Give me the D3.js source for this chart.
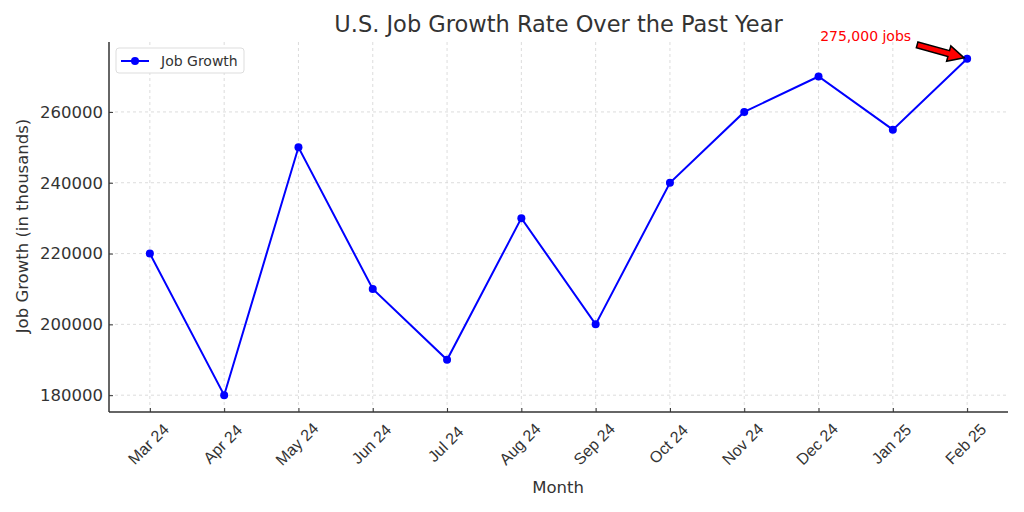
<!DOCTYPE html>
<html><head><meta charset="utf-8">
<script src="https://cdn.jsdelivr.net/npm/d3@7"></script>
<style>body{margin:0;background:#fff}svg{display:block;font-family:"DejaVu Sans",sans-serif}</style>
</head><body><svg id="c" width="1024" height="512"></svg>
<script>
const months = ["Mar 24","Apr 24","May 24","Jun 24","Jul 24","Aug 24","Sep 24","Oct 24","Nov 24","Dec 24","Jan 25","Feb 25"];
const jobGrowth = [220000,180000,250000,210000,190000,230000,200000,240000,260000,270000,255000,275000];
const yTicks = [180000,200000,220000,240000,260000];
const annotationText = "275,000 jobs";

const svg = d3.select("#c");
const L=109,R=1008,T=42,B=412;
const x = d3.scaleLinear().domain([-0.55, months.length-1+0.55]).range([L,R]);
const ymin=d3.min(jobGrowth), ymax=d3.max(jobGrowth), pad=(ymax-ymin)*0.05;
const y = d3.scaleLinear().domain([ymin-pad,ymax+pad]).range([B,T]);

const grid = svg.append("g");
months.forEach((m,i)=>grid.append("line").attr("x1",x(i)).attr("x2",x(i)).attr("y1",T).attr("y2",B));
yTicks.forEach(v=>grid.append("line").attr("x1",L).attr("x2",R).attr("y1",y(v)).attr("y2",y(v)));
grid.selectAll("line").attr("stroke","#d3d3d3").attr("stroke-width",0.8).attr("stroke-dasharray","3,3");

const xAxis = svg.append("g").attr("transform",`translate(0,${B})`)
  .call(d3.axisBottom(x).tickValues(d3.range(months.length)).tickFormat(i=>months[i]).tickSizeInner(-4).tickSizeOuter(0));
xAxis.select(".domain").remove();
xAxis.selectAll("text").attr("text-anchor","middle").attr("font-size",16).attr("fill","#333")
  .attr("x",0).attr("y",0).attr("dy","0.35em").attr("transform","translate(-2,32) rotate(-45)");
xAxis.selectAll("line").attr("stroke","#333");

const yAxis = svg.append("g").attr("transform",`translate(${L},0)`)
  .call(d3.axisLeft(y).tickValues(yTicks).tickFormat(d3.format("d")).tickSizeInner(-4).tickSizeOuter(0).tickPadding(6));
yAxis.select(".domain").remove();
yAxis.selectAll("text").attr("font-size",16.5).attr("fill","#333").attr("font-family","DejaVu Sans");
yAxis.selectAll("line").attr("stroke","#333");

svg.append("line").attr("x1",L).attr("x2",L).attr("y1",T).attr("y2",B).attr("stroke","#333").attr("stroke-width",1.5);
svg.append("line").attr("x1",L).attr("x2",R).attr("y1",B).attr("y2",B).attr("stroke","#333").attr("stroke-width",1.5);

const line = d3.line().x((d,i)=>x(i)).y(d=>y(d));
svg.append("path").datum(jobGrowth).attr("d",line).attr("fill","none").attr("stroke","#0000ff").attr("stroke-width",2);
svg.selectAll("circle.pt").data(jobGrowth).enter().append("circle").attr("class","pt")
  .attr("cx",(d,i)=>x(i)).attr("cy",d=>y(d)).attr("r",4).attr("fill","#0000ff");

svg.append("text").attr("x",558.5).attr("y",32).attr("text-anchor","middle").attr("font-size",22.5).attr("fill","#333")
  .text("U.S. Job Growth Rate Over the Past Year");
svg.append("text").attr("x",558).attr("y",493).attr("text-anchor","middle").attr("font-size",16.5).attr("fill","#333").text("Month");
svg.append("text").attr("transform",`translate(28,226) rotate(-90)`).attr("text-anchor","middle").attr("font-size",16.5).attr("fill","#333")
  .text("Job Growth (in thousands)");

// legend
const lg = svg.append("g");
lg.append("rect").attr("x",116).attr("y",48).attr("width",128).attr("height",25).attr("rx",3).attr("fill","#fff").attr("stroke","#ddd");
lg.append("line").attr("x1",121).attr("x2",149).attr("y1",61).attr("y2",61).attr("stroke","#0000ff").attr("stroke-width",2);
lg.append("circle").attr("cx",135).attr("cy",61).attr("r",4).attr("fill","#0000ff");
lg.append("text").attr("x",161).attr("y",66).attr("font-size",14).attr("fill","#333").text("Job Growth");

// annotation
const last = months.length-1;
const px = x(last), py = y(jobGrowth[last]);
svg.append("text").attr("x",px-56).attr("y",py-18).attr("text-anchor","end").attr("font-size",14).attr("fill","#ff0000").text(annotationText);
const sx = px-50, sy = py-14, ex = px-3, ey = py-1;
const ang = Math.atan2(ey-sy, ex-sx);
const len = Math.hypot(ex-sx, ey-sy);
const hw=3, hh=8, hl=16;
const pts = [[0,-hw],[len-hl,-hw],[len-hl,-hh],[len,0],[len-hl,hh],[len-hl,hw],[0,hw]];
svg.append("polygon").attr("points",pts.map(p=>p.join(",")).join(" "))
  .attr("transform",`translate(${sx},${sy}) rotate(${ang*180/Math.PI})`)
  .attr("fill","#ff0000").attr("stroke","#000").attr("stroke-width",1.5).attr("stroke-linejoin","miter");
</script></body></html>
